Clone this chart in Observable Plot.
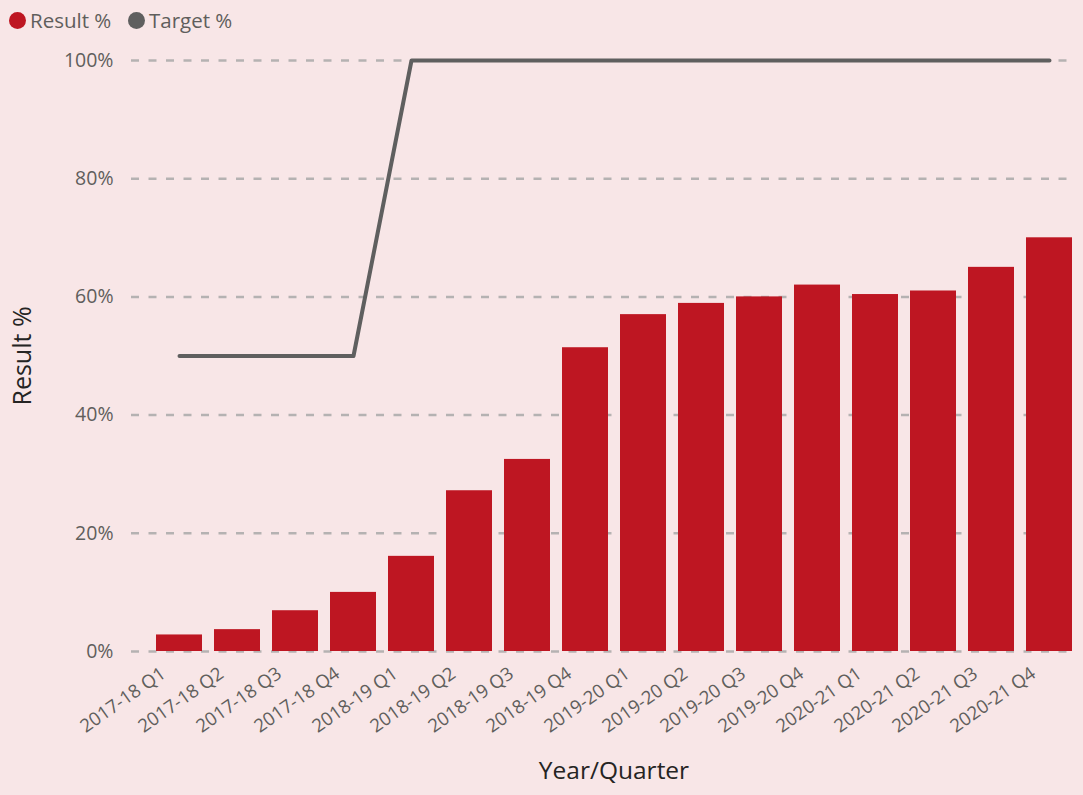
<!DOCTYPE html>
<html><head><meta charset="utf-8">
<script src="https://cdn.jsdelivr.net/npm/d3@7"></script>
<script src="https://cdn.jsdelivr.net/npm/@observablehq/plot@0.6"></script>
<style>
html,body{margin:0;padding:0;background:#F8E6E7;}
body{width:1083px;height:795px;overflow:hidden;font-family:"Open Sans",sans-serif;position:relative;}
#legend{position:relative;height:38px;font-size:20.5px;color:#605E5C;}
.item{position:absolute;top:1px;height:38px;display:flex;align-items:center;}
.sw{display:inline-block;width:17px;height:17px;border-radius:50%;margin-right:4px;}
#chart svg{display:block;}
</style></head>
<body>
<div id="legend"></div>
<div id="chart"></div>
<script>
const quarters = ["2017-18 Q1","2017-18 Q2","2017-18 Q3","2017-18 Q4","2018-19 Q1","2018-19 Q2","2018-19 Q3","2018-19 Q4","2019-20 Q1","2019-20 Q2","2019-20 Q3","2019-20 Q4","2020-21 Q1","2020-21 Q2","2020-21 Q3","2020-21 Q4"];
const resultPct = [2.8, 3.7, 6.9, 10.0, 16.1, 27.2, 32.5, 51.4, 57.0, 58.9, 60.0, 62.0, 60.4, 61.0, 65.0, 70.0];
const targetPct = [50, 50, 50, 50, 100, 100, 100, 100, 100, 100, 100, 100, 100, 100, 100, 100];
const yTicks = [0, 20, 40, 60, 80, 100];
const seriesNames = ["Result %", "Target %"];
const seriesColors = ["#BE1622", "#5F5F5F"];

const data = quarters.map((q, i) => ({q, result: resultPct[i], target: targetPct[i]}));

// legend
const legend = document.getElementById("legend");
const legendLeft = [9, 128];
seriesNames.forEach((name, i) => {
  const it = document.createElement("div");
  it.className = "item";
  it.style.left = legendLeft[i] + "px";
  it.innerHTML = `<span class="sw" style="background:${seriesColors[i]}"></span><span>${name}</span>`;
  legend.appendChild(it);
});

const chart = Plot.plot({
  width: 1083, height: 757,
  marginLeft: 131, marginRight: 9, marginTop: 22, marginBottom: 144,
  style: {background: "transparent", fontFamily: "'Open Sans', sans-serif"},
  x: {domain: quarters, paddingInner: 0.215, paddingOuter: 0.22, align: 0.9, label: null},
  y: {domain: [0, 100], label: null},
  marks: [
    Plot.ruleY(yTicks, {stroke: "#B5B2B2", strokeWidth: 2.5, strokeDasharray: "8,9.5"}),
    Plot.barY(data, {x: "q", y: "result", fill: seriesColors[0]}),
    Plot.lineY(data, {x: "q", y: "target", stroke: seriesColors[1], strokeWidth: 4}),
    Plot.axisY({ticks: yTicks, tickSize: 0, tickPadding: 18, tickFormat: d => d + "%", fontSize: 19.5, color: "#605E5C", label: null}),
    Plot.axisX({tickSize: 0, tickRotate: -35, tickPadding: 20, dx: -16, fontSize: 18.5, color: "#605E5C", label: null}),
    Plot.text(["Result %"], {text: d => d, frameAnchor: "left", rotate: -90, textAnchor: "middle", dx: -109, fontSize: 25, fill: "#252423"}),
    Plot.text(["Year/Quarter"], {text: d => d, frameAnchor: "bottom", textAnchor: "middle", dy: 127, dx: 11, fontSize: 24.5, fill: "#252423"})
  ]
});
document.getElementById("chart").appendChild(chart);
</script>
</body></html>
